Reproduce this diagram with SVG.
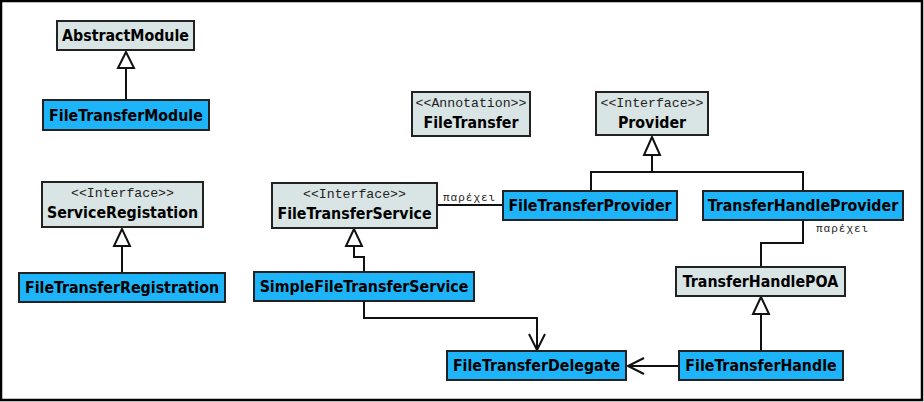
<svg xmlns="http://www.w3.org/2000/svg" width="924" height="402" viewBox="0 0 924 402">
<style>
.g{fill:#d9e4e4;stroke:#222;stroke-width:2}
.b{fill:#1db4f9;stroke:#222;stroke-width:2}
.t{font-family:"DejaVu Sans Condensed","DejaVu Sans",Verdana,sans-serif;font-stretch:condensed;font-weight:bold;font-size:15.8px;fill:#000;text-anchor:middle}
.s{font-family:"Liberation Mono","Courier New",monospace;font-size:13.2px;fill:#222;text-anchor:middle}
.l{font-family:"Liberation Mono","Courier New",monospace;font-size:11px;fill:#222;letter-spacing:1px}
.c{fill:none;stroke:#111;stroke-width:2}
.tri{fill:#fff;stroke:#111;stroke-width:2}
</style>
<rect x="0" y="0" width="924" height="402" fill="#fff"/>
<rect x="1" y="1" width="921" height="399" fill="none" stroke="#000" stroke-width="2.5"/>
<g id="connectors">
<path class="c" d="M126,100 V68"/>
<polygon class="tri" points="126,52 118,68 134,68"/>
<path class="c" d="M122,273 V246"/>
<polygon class="tri" points="122,229 114,246 130,246"/>
<path class="c" d="M364,272 V257 H354 V246"/>
<polygon class="tri" points="354,229 346,246 362,246"/>
<path class="c" d="M364,301 V318 H537 V350"/>
<path class="c" d="M529,334 L537,350 L545,334"/>
<path class="c" d="M437,205 H503"/>
<text class="l" x="443" y="201">παρέχει</text>
<path class="c" d="M591,191 V172 H803 V191"/>
<path class="c" d="M652,172 V155"/>
<polygon class="tri" points="652,137 644,155 660,155"/>
<path class="c" d="M803,220 V243 H761 V267"/>
<text class="l" x="816" y="232">παρέχει</text>
<path class="c" d="M761,351 V314"/>
<polygon class="tri" points="761,297 753,314 769,314"/>
<path class="c" d="M679,366 H628"/>
<path class="c" d="M644,358 L628,366 L644,374"/>
</g>
<g id="AbstractModule"><rect class="g" x="57" y="21" width="137" height="29"/><text class="t" x="125.5" y="41">AbstractModule</text></g>
<g id="FileTransferModule"><rect class="b" x="43" y="100" width="166" height="30"/><text class="t" x="126" y="121">FileTransferModule</text></g>
<g id="ServiceRegistation"><rect class="g" x="42" y="182" width="161" height="45"/><text class="s" x="122.5" y="197">&lt;&lt;Interface&gt;&gt;</text><text class="t" x="122.5" y="218">ServiceRegistation</text></g>
<g id="FileTransferRegistration"><rect class="b" x="19" y="273" width="206" height="29"/><text class="t" x="122" y="293">FileTransferRegistration</text></g>
<g id="FileTransfer"><rect class="g" x="412" y="92" width="118" height="44"/><text class="s" x="471" y="107">&lt;&lt;Annotation&gt;&gt;</text><text class="t" x="471" y="128">FileTransfer</text></g>
<g id="Provider"><rect class="g" x="596" y="92" width="112" height="43"/><text class="s" x="652" y="107">&lt;&lt;Interface&gt;&gt;</text><text class="t" x="652" y="128">Provider</text></g>
<g id="FileTransferService"><rect class="g" x="272" y="183" width="165" height="45"/><text class="s" x="354.5" y="198">&lt;&lt;Interface&gt;&gt;</text><text class="t" x="354.5" y="219">FileTransferService</text></g>
<g id="FileTransferProvider"><rect class="b" x="503" y="191" width="174" height="29"/><text class="t" x="590" y="211">FileTransferProvider</text></g>
<g id="TransferHandleProvider"><rect class="b" x="703" y="191" width="200" height="29"/><text class="t" x="803" y="211">TransferHandleProvider</text></g>
<g id="SimpleFileTransferService"><rect class="b" x="254" y="272" width="220" height="29"/><text class="t" x="364" y="292">SimpleFileTransferService</text></g>
<g id="TransferHandlePOA"><rect class="g" x="676" y="267" width="169" height="29"/><text class="t" x="760.5" y="287">TransferHandlePOA</text></g>
<g id="FileTransferDelegate"><rect class="b" x="447" y="351" width="179" height="29"/><text class="t" x="536.5" y="371">FileTransferDelegate</text></g>
<g id="FileTransferHandle"><rect class="b" x="679" y="351" width="164" height="29"/><text class="t" x="761" y="371">FileTransferHandle</text></g>
</svg>
